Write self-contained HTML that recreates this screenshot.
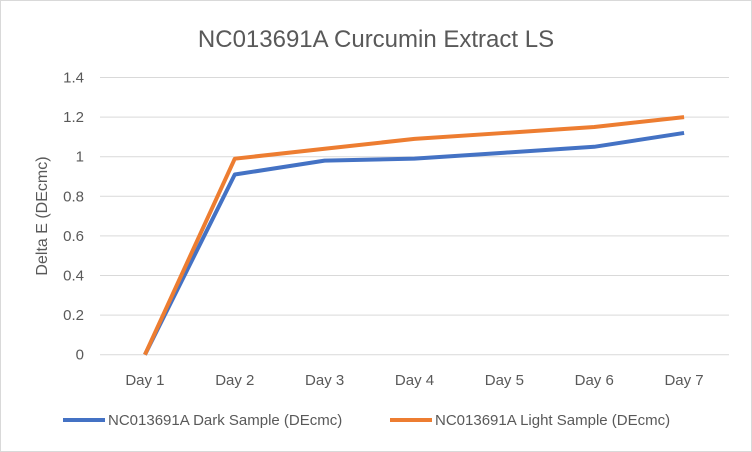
<!DOCTYPE html>
<html><head><style>
body{margin:0;background:#fff;}
svg{display:block;font-family:"Liberation Sans",sans-serif;}
</style></head><body>
<svg id="chart" width="752" height="452">
<rect x="0.5" y="0.5" width="751" height="451" fill="#fff" stroke="#d9d9d9"/>
<text x="376" y="47" text-anchor="middle" font-size="24" fill="#595959">NC013691A Curcumin Extract LS</text>
<text transform="translate(47,216) rotate(-90)" text-anchor="middle" font-size="16" fill="#595959">Delta E (DEcmc)</text>
<g id="grid"></g><g id="xl"></g><g id="series"></g>
<g>
<line x1="63" y1="420" x2="105" y2="420" stroke="#4472c4" stroke-width="4"/>
<text x="108" y="425" font-size="15" fill="#595959">NC013691A Dark Sample (DEcmc)</text>
<line x1="390" y1="420" x2="432" y2="420" stroke="#ed7d31" stroke-width="4"/>
<text x="435" y="425" font-size="15" fill="#595959">NC013691A Light Sample (DEcmc)</text>
</g>
</svg>
<script>
const categories=["Day 1","Day 2","Day 3","Day 4","Day 5","Day 6","Day 7"];
const darkValues=[0,0.91,0.98,0.99,1.02,1.05,1.12];
const lightValues=[0,0.99,1.04,1.09,1.12,1.15,1.2];
const yTicks=[0,0.2,0.4,0.6,0.8,1,1.2,1.4];
const NS="http://www.w3.org/2000/svg";
const x0=100,x1=729,y0=354.7,yTop=77.5,yMax=1.4;
const step=(x1-x0)/categories.length;
const xs=i=>x0+step*(i+0.5);
const ys=v=>y0-(v/yMax)*(y0-yTop);
function mk(t,a,p){const e=document.createElementNS(NS,t);for(const k in a)e.setAttribute(k,a[k]);p.appendChild(e);return e;}
const grid=document.getElementById('grid');
yTicks.forEach(v=>{
 const l=mk('line',{x1:x0,x2:x1,y1:ys(v),y2:ys(v),stroke:'#d9d9d9','stroke-width':1},grid);
 
 
 const t=mk('text',{x:84,y:ys(v)+5,'text-anchor':'end','font-size':15,fill:'#595959'},grid);
 t.textContent=String(v);
 
 
});
const xl=document.getElementById('xl');
categories.forEach((c,i)=>{
 const t=mk('text',{x:xs(i),y:385,'text-anchor':'middle','font-size':15,fill:'#595959'},xl);
 t.textContent=c;
 
 
});
const sg=document.getElementById('series');
[[darkValues,'#4472c4','series-dark'],[lightValues,'#ed7d31','series-light']].forEach(([vals,col,nm])=>{
 const p=mk('polyline',{points:vals.map((v,i)=>xs(i)+','+ys(v)).join(' '),fill:'none',stroke:col,'stroke-width':4,'stroke-linejoin':'round'},sg);
 
 
});
</script>
</body></html>
